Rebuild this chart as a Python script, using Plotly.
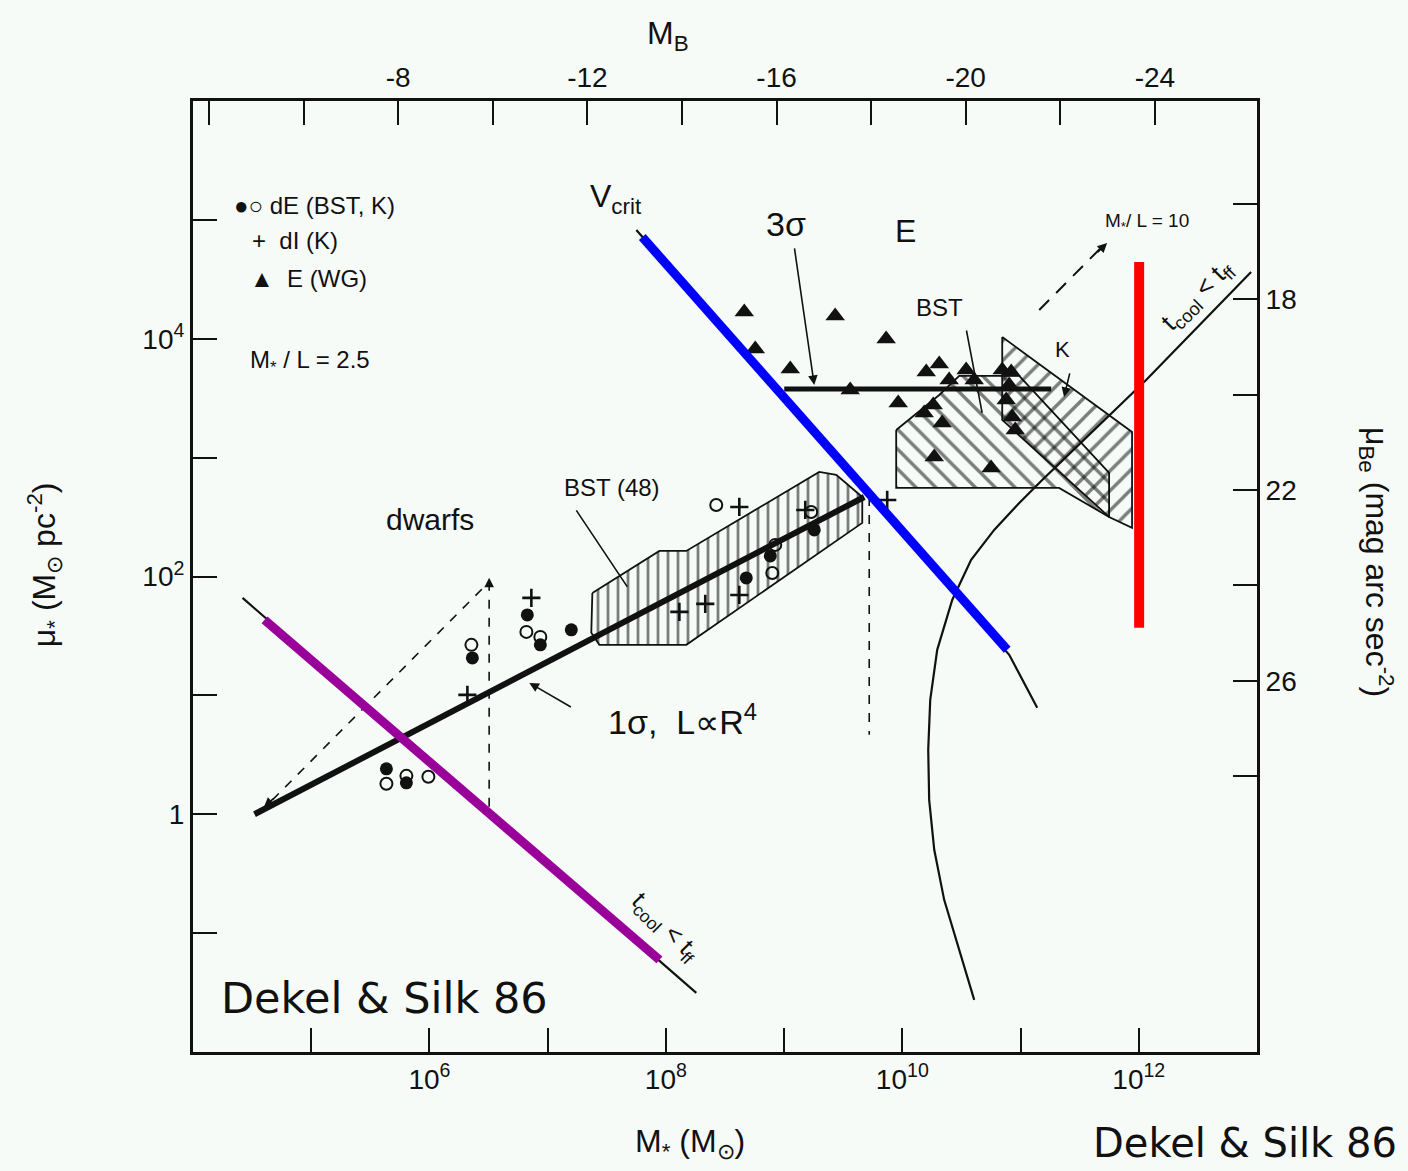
import plotly.graph_objects as go

# ---- axis ranges (bottom/left axes are in log10 units) ----
LOGM_RANGE = [4.0, 13.0]          # log10 M* (Msun)
LOGMU_RANGE = [-2.0, 6.0]         # log10 mu* (Msun pc^-2)
MB_RANGE = [-3.66, -26.16]        # absolute magnitude M_B (top)
MUBE_RANGE = [33.78, 13.845]      # mu_Be (mag arcsec^-2, right)

# ---- tick labels ----
logm_ticks = [5, 6, 7, 8, 9, 10, 11, 12]
logm_labels = ["", "10<sup>6</sup>", "", "10<sup>8</sup>", "", "10<sup>10</sup>", "", "10<sup>12</sup>"]
logmu_ticks = [-1, 0, 1, 2, 3, 4, 5]
logmu_labels = ["", "1", "", "10<sup>2</sup>", "", "10<sup>4</sup>", ""]
mb_ticks = [-4, -6, -8, -10, -12, -14, -16, -18, -20, -22, -24]
mb_labels = ["", "", "-8", "", "-12", "", "-16", "", "-20", "", "-24"]
mube_ticks = [16, 18, 20, 22, 24, 26, 28]
mube_labels = ["", "18", "", "22", "", "26", ""]

# ---- galaxies ----
de_filled_logm = [5.636, 5.805, 6.363, 6.828, 6.938, 7.200, 8.680, 8.883, 9.255]
de_filled_logmu = [0.382, 0.264, 1.315, 1.677, 1.425, 1.551, 1.988, 2.173, 2.392]
de_open_logm = [5.636, 5.805, 5.991, 6.355, 6.820, 6.938, 8.426, 8.925, 8.900, 9.229]
de_open_logmu = [0.256, 0.323, 0.315, 1.425, 1.534, 1.492, 2.602, 2.266, 2.030, 2.543]
di_logm = [6.321, 6.862, 8.621, 8.114, 8.333, 8.621, 9.179, 9.872]
di_logmu = [1.004, 1.820, 2.585, 1.702, 1.770, 1.845, 2.560, 2.644]
e_logm = [8.663, 8.756, 9.052, 9.432, 9.863, 9.559, 9.965, 10.202, 10.312, 10.396,
          10.540, 10.185, 10.261, 10.337, 10.270, 10.751, 10.845, 10.921, 10.879,
          10.930, 10.904, 10.608, 10.955]
e_logmu = [4.225, 3.914, 3.746, 4.192, 3.998, 3.569, 3.460, 3.721, 3.788, 3.653,
           3.738, 3.376, 3.443, 3.292, 3.006, 2.913, 3.738, 3.721, 3.485,
           3.342, 3.611, 3.653, 3.233]

# ---- hatched regions ----
bst48_logm = [7.378, 7.945, 8.173, 9.297, 9.441, 9.661, 9.661, 8.173, 7.437, 7.369, 7.378]
bst48_logmu = [1.862, 2.215, 2.215, 2.880, 2.855, 2.669, 2.451, 1.425, 1.425, 1.526, 1.862]
bst_e_logm = [9.948, 10.312, 10.481, 10.989, 11.749, 11.749, 11.326, 9.948, 9.948]
bst_e_logmu = [3.233, 3.527, 3.687, 3.687, 2.871, 2.501, 2.745, 2.745, 3.233]
k_e_logm = [10.845, 11.943, 11.943, 11.749, 10.845, 10.845]
k_e_logmu = [4.015, 3.216, 2.409, 2.501, 3.317, 4.015]

# ---- relations and limits ----
sigma1_logm = [4.520, 9.678]
sigma1_logmu = [0.000, 2.669]
sigma3_logm = [9.001, 11.259]
sigma3_logmu = [3.578, 3.578]
cool_left_logm = [4.419, 8.257]
cool_left_logmu = [1.820, -1.502]
cool_right_logm = [10.608, 10.481, 10.354, 10.270, 10.227, 10.219, 10.236, 10.295,
                   10.422, 10.582, 10.777, 10.989, 11.183, 12.062, 12.950]
cool_right_logmu = [-1.561, -1.140, -0.720, -0.299, 0.121, 0.542, 0.962, 1.383,
                    1.803, 2.140, 2.392, 2.619, 2.812, 3.653, 4.562]
vcrit_logm = [7.750, 10.904, 11.141]
vcrit_logmu = [4.915, 1.341, 0.895]
dash_diag_logm = [4.672, 6.505]
dash_diag_logmu = [0.121, 1.955]
dash_v1_logm = [6.505, 6.505]
dash_v1_logmu = [1.955, 0.054]
dash_v2_logm = [9.720, 9.720]
dash_v2_logmu = [2.669, 0.668]
ml10_logm = [11.158, 11.700]
ml10_logmu = [4.242, 4.785]

# ---- highlighted limits ----
blue_logm = [7.800, 10.887]
blue_logmu = [4.856, 1.383]
red_logm = [12.003, 12.003]
red_logmu = [1.568, 4.646]
purple_logm = [4.605, 7.945]
purple_logmu = [1.635, -1.225]

INK = "#111111"
FONT = "Liberation Sans, Arial, sans-serif"
BG = "#f7fbf8"

fig = go.Figure()


def line(x, y, width=2, dash="solid", color=INK):
    fig.add_trace(go.Scatter(x=x, y=y, mode="lines", hoverinfo="skip",
                             line=dict(color=color, width=width, dash=dash),
                             showlegend=False))


def hatch(x, y, shape, size, solidity):
    fig.add_trace(go.Scatter(x=x, y=y, mode="lines", fill="toself", hoverinfo="skip",
                             fillcolor="rgba(0,0,0,0)",
                             fillpattern=dict(shape=shape, fgcolor="#000000", bgcolor="rgba(0,0,0,0)",
                                              size=size, solidity=solidity),
                             line=dict(color=INK, width=1.8), showlegend=False))


hatch(bst48_logm, bst48_logmu, "|", 10, 0.28)
hatch(bst_e_logm, bst_e_logmu, "\\", 14, 0.24)
hatch(k_e_logm, k_e_logmu, "/", 14, 0.24)

line(cool_left_logm, cool_left_logmu, 2.2)
line(cool_right_logm, cool_right_logmu, 2.2)
line(vcrit_logm, vcrit_logmu, 2.2)
line(sigma1_logm, sigma1_logmu, 6)
line(sigma3_logm, sigma3_logmu, 5)
line(dash_diag_logm, dash_diag_logmu, 1.6, "dash")
line(dash_v1_logm, dash_v1_logmu, 1.6, "dash")
line(dash_v2_logm, dash_v2_logmu, 1.6, "dash")
line(ml10_logm, ml10_logmu, 2, "14px,10px")

fig.add_trace(go.Scatter(x=e_logm, y=e_logmu, mode="markers", hoverinfo="skip", showlegend=False,
                         marker=dict(symbol="triangle-up", size=17, color=INK)))
fig.add_trace(go.Scatter(x=de_filled_logm, y=de_filled_logmu, mode="markers", hoverinfo="skip",
                         showlegend=False, marker=dict(symbol="circle", size=13, color=INK)))
fig.add_trace(go.Scatter(x=de_open_logm, y=de_open_logmu, mode="markers", hoverinfo="skip",
                         showlegend=False,
                         marker=dict(symbol="circle-open", size=12, color=INK, line=dict(width=2))))
fig.add_trace(go.Scatter(x=di_logm, y=di_logmu, mode="markers", hoverinfo="skip", showlegend=False,
                         marker=dict(symbol="cross-thin", size=13, color=INK,
                                     line=dict(width=2.6, color=INK))))

line(blue_logm, blue_logmu, 9, color="#0000ff")
line(red_logm, red_logmu, 10, color="#ff0000")
line(purple_logm, purple_logmu, 9, color="#990099")

# keep the magnitude axes alive
fig.add_trace(go.Scatter(x=[MB_RANGE[0]], y=[MUBE_RANGE[0]], xaxis="x2", yaxis="y2", mode="markers",
                         marker=dict(opacity=0), hoverinfo="skip", showlegend=False))


def label(x, y, text, size, angle=0, xanchor="center", xref="x", yref="y", family=FONT):
    fig.add_annotation(x=x, y=y, xref=xref, yref=yref, text=text, showarrow=False,
                       xanchor=xanchor, yanchor="middle", textangle=angle,
                       font=dict(size=size, color=INK, family=family))


def arrow(x, y, ax, ay, head=2, hsize=1.2, width=1.6):
    fig.add_annotation(x=x, y=y, ax=ax, ay=ay, xref="x", yref="y", axref="x", ayref="y",
                       text="", showarrow=True, arrowhead=head, arrowsize=hsize,
                       arrowwidth=width, arrowcolor=INK)


# pointers
arrow(9.255, 3.611, 9.086, 4.772)
arrow(6.845, 1.105, 7.209, 0.895)
arrow(7.674, 1.913, 7.234, 2.569, head=0)
arrow(10.675, 3.376, 10.540, 4.082, head=0)
arrow(11.368, 3.511, 11.419, 3.721)
arrow(11.732, 4.806, 11.640, 4.717)
arrow(6.505, 1.990, 6.505, 1.900)
arrow(4.600, 0.060, 4.690, 0.140)

# key
label(4.334, 5.125, "●○ dE (BST, K)", 24, xanchor="left")
label(4.478, 4.823, "+  dI (K)", 24, xanchor="left")
label(4.461, 4.511, "▲  E (WG)", 24, xanchor="left")
label(4.461, 3.805, "M<sub>*</sub> / L = 2.5", 24, xanchor="left")

# region labels
label(7.581, 5.184, "V<sub>crit</sub>", 32)
label(9.018, 4.966, "3σ", 34)
label(10.024, 4.907, "E", 32)
label(10.312, 4.259, "BST", 24)
label(11.352, 3.906, "K", 22)
label(12.071, 4.982, "M<sub>*</sub>/ L = 10", 19)
label(6.001, 2.476, "dwarfs", 30)
label(7.547, 2.745, "BST (48)", 24)
label(8.138, 0.794, "1σ,  L∝R<sup>4</sup>", 34)
label(12.500, 4.360, "t<sub>cool</sub> < t<sub>ff</sub>", 26, angle=-45)
label(7.990, -0.950, "t<sub>cool</sub> < t<sub>ff</sub>", 25, angle=45)

# axis titles
label(0.446, 1.069, "M<sub>B</sub>", 32, xref="paper", yref="paper")
label(0.467, -0.096, "M<sub>*</sub> (M<sub>⊙</sub>)", 32, xref="paper", yref="paper")
label(-0.140, 0.512, "μ<sub>*</sub> (M<sub>⊙</sub> pc<sup>-2</sup>)", 32, angle=-90,
      xref="paper", yref="paper")
label(1.113, 0.515, "μ<sub>Be</sub> (mag arc sec<sup>-2</sup>)", 32, angle=90,
      xref="paper", yref="paper")

# credits
label(0.180, 0.057, "Dekel &amp; Silk 86", 43, xref="paper", yref="paper",
      family="DejaVu Sans, sans-serif")
label(1.1335, -0.0955, "Dekel &amp; Silk 86", 40, xanchor="right", xref="paper", yref="paper",
      family="DejaVu Sans, sans-serif")

axis_common = dict(showgrid=False, zeroline=False, showline=True, linecolor=INK, linewidth=3,
                   ticks="inside", ticklen=24, tickwidth=2, tickcolor=INK,
                   tickfont=dict(size=28, color=INK, family=FONT), fixedrange=True)

fig.update_layout(
    width=1408, height=1171,
    margin=dict(l=193, r=151, t=101, b=119),
    paper_bgcolor=BG, plot_bgcolor=BG,
    showlegend=False,
    xaxis=dict(range=LOGM_RANGE, tickmode="array", tickvals=logm_ticks, ticktext=logm_labels,
               **axis_common),
    yaxis=dict(range=LOGMU_RANGE, tickmode="array", tickvals=logmu_ticks, ticktext=logmu_labels,
               **axis_common),
    xaxis2=dict(range=MB_RANGE, overlaying="x", side="top", anchor="y", tickmode="array",
                tickvals=mb_ticks, ticktext=mb_labels, **axis_common),
    yaxis2=dict(range=MUBE_RANGE, overlaying="y", side="right", anchor="x", tickmode="array",
                tickvals=mube_ticks, ticktext=mube_labels, **axis_common),
)

fig.write_html("out.html")
